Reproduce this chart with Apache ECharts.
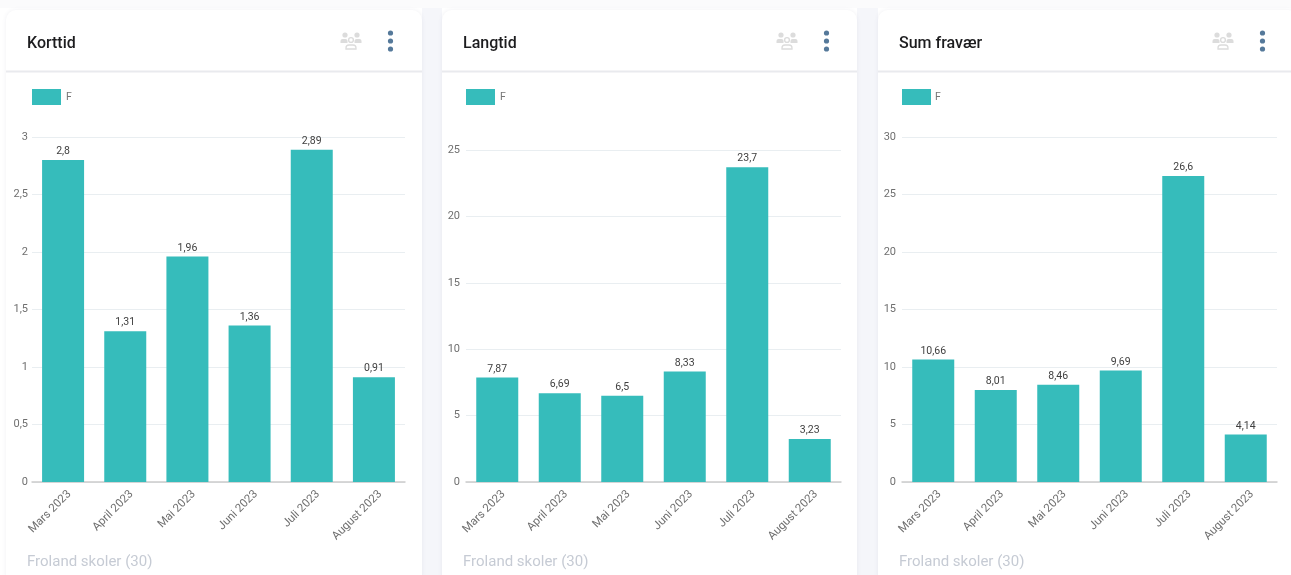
<!DOCTYPE html>
<html><head><meta charset="utf-8">
<style>html,body{margin:0;padding:0;background:#fff;overflow:hidden}#c{width:1291px;height:575px}</style>
<script src="https://cdn.jsdelivr.net/npm/echarts@6/dist/echarts.min.js"></script>
</head><body><div id="c"></div>
<script>
const categories = ['Mars 2023','April 2023','Mai 2023','Juni 2023','Juli 2023','August 2023'];
const korttid = [2.8,1.31,1.96,1.36,2.89,0.91];
const langtid = [7.87,6.69,6.5,8.33,23.7,3.23];
const sumFravaer = [10.66,8.01,8.46,9.69,26.6,4.14];
const titles = ['Korttid','Langtid','Sum fravær'];
const seriesName = 'F';
const footer = 'Froland skoler (30)';
const values = [korttid,langtid,sumFravaer];
const axes = [{max:3,interval:0.5,top:137},{max:25,interval:5,top:150},{max:30,interval:5,top:137}];
const cards = [6,442,878];
const cardW = [416,415,420];
const plotLeft = [32,466,902];
const plotW = [373,375,375];
const FONT = 'Roboto, sans-serif';
const TEAL = '#36bcbb';
const comma = v => String(v).replace('.',',');

const graphic = [];
graphic.push({type:'rect',z:-10,silent:true,shape:{x:0,y:0,width:1291,height:575},style:{fill:'#ffffff'}});
graphic.push({type:'rect',z:-10,silent:true,shape:{x:422,y:8,width:20,height:567},style:{fill:'#f5f6fa'}});
graphic.push({type:'rect',z:-10,silent:true,shape:{x:857,y:8,width:21,height:567},style:{fill:'#f5f6fa'}});
graphic.push({type:'rect',z:-10,silent:true,shape:{x:0,y:0,width:1291,height:8},style:{fill:'#fbfbfc'}});
cards.forEach((x,i)=>{
  graphic.push({type:'rect',z:-9,silent:true,shape:{x:x,y:10,width:cardW[i],height:575,r:10},
    style:{fill:'#fff',shadowBlur:4,shadowColor:'rgba(60,70,120,0.08)'}});
  graphic.push({type:'line',z:-8,silent:true,shape:{x1:x,y1:71.5,x2:x+cardW[i],y2:71.5},style:{stroke:'#e9eaee',lineWidth:2}});
  const c = '#dcdcdc';
  const ix = x+339;
  graphic.push({type:'group',silent:true,children:[
    {type:'circle',shape:{cx:ix,cy:35,r:2.6},style:{fill:c}},
    {type:'circle',shape:{cx:ix+12,cy:35,r:2.6},style:{fill:c}},
    {type:'circle',shape:{cx:ix+6,cy:40,r:2.4},style:{fill:'#fff',stroke:c,lineWidth:1.4}},
    {type:'rect',shape:{x:ix-4.5,y:39,width:7,height:4,r:[2,2,0,0]},style:{fill:c}},
    {type:'rect',shape:{x:ix+9.5,y:39,width:7,height:4,r:[2,2,0,0]},style:{fill:c}},
    {type:'rect',shape:{x:ix+1,y:45,width:10,height:4,r:[3,3,0,0]},style:{fill:'#fff',stroke:c,lineWidth:1.3}}
  ]});
  [33,41,49].forEach(cy=>graphic.push({type:'circle',silent:true,shape:{cx:x+384.5,cy:cy,r:2.6},style:{fill:'#55799a'}}));
});

const grids=[],xAxis=[],yAxis=[],series=[],title=[];
cards.forEach((x,i)=>{
  grids.push({left:plotLeft[i],width:plotW[i],top:axes[i].top,height:482-axes[i].top});
  xAxis.push({type:'category',gridIndex:i,data:categories,
    axisTick:{show:false},axisLine:{lineStyle:{color:'#cccccc',width:1.5}},
    axisLabel:{rotate:45,interval:0,color:'#6f6f6f',fontSize:11.5,fontFamily:FONT,margin:4,verticalAlign:'top',lineHeight:18}});
  yAxis.push({type:'value',gridIndex:i,min:0,max:axes[i].max,interval:axes[i].interval,
    axisLine:{show:false},axisTick:{show:false},
    splitLine:{lineStyle:{color:'#e9eef1',width:1}},
    axisLabel:{color:'#6f6f6f',fontSize:11,fontFamily:FONT,margin:[4,6,6][i],formatter:comma}});
  series.push({type:'bar',name:seriesName,xAxisIndex:i,yAxisIndex:i,data:values[i],
    barWidth:42,itemStyle:{color:TEAL},
    label:{show:true,position:'top',distance:3,fontSize:10.5,fontFamily:FONT,color:'#404040',formatter:p=>comma(p.value)}});
  title.push({text:titles[i],left:x+21,top:36,padding:0,textStyle:{fontFamily:FONT,fontSize:16,fontWeight:500,color:'#1d1d1f'}});
  title.push({text:footer,left:x+21,top:555,padding:0,textStyle:{fontFamily:FONT,fontSize:15,fontWeight:400,color:'#c6cbd4'}});
  graphic.push({type:'rect',silent:true,shape:{x:x+[26,24,24][i],y:89,width:29,height:16},style:{fill:TEAL}});
  graphic.push({type:'text',silent:true,x:x+[60,58,57][i],y:97,style:{text:seriesName,fill:'#777',font:'10.5px '+FONT,textVerticalAlign:'middle'}});
});
const chart = echarts.init(document.getElementById('c'),null,{renderer:'canvas'});
chart.setOption({animation:false,backgroundColor:'#fff',title,grid:grids,xAxis,yAxis,series,graphic});
</script></body></html>
